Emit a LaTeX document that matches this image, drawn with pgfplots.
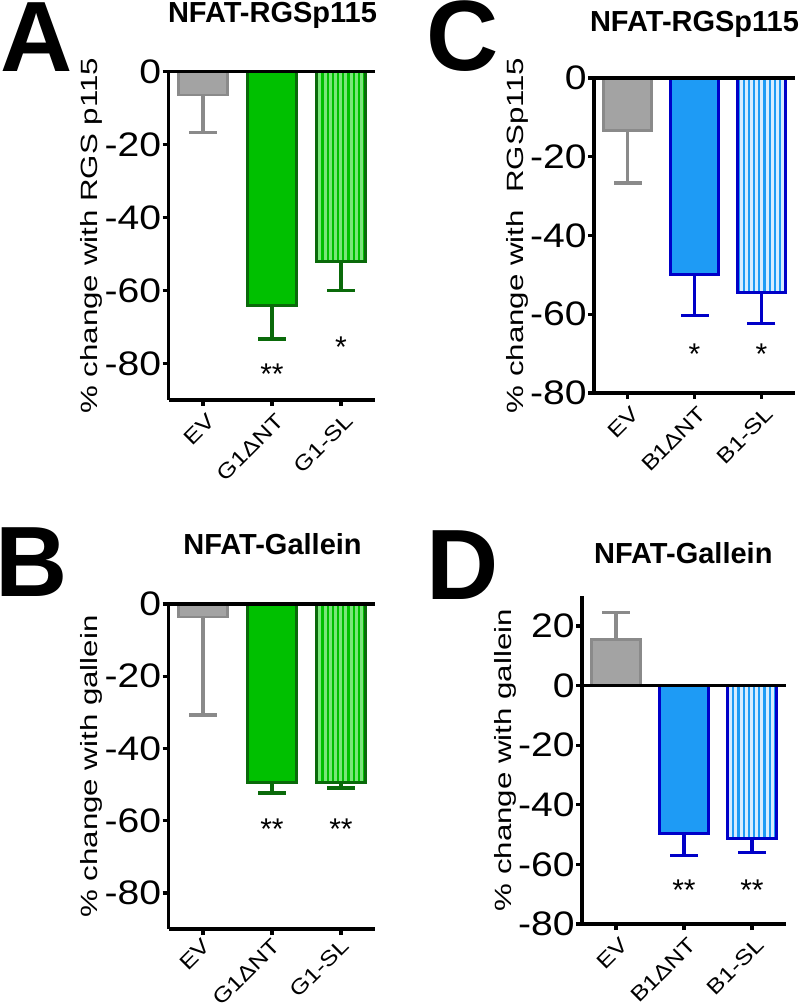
\documentclass[border=0pt]{standalone}
\usepackage{fontspec}
\setmainfont{Liberation Sans}
\newfontfamily\tickfont[FakeStretch=1.15]{Liberation Sans}
\newfontfamily\labfont[FakeStretch=1.33]{Liberation Sans}
\newfontfamily\xfont[FakeStretch=1.2]{Liberation Sans}
\usepackage{pgfplots}
\pgfplotsset{compat=1.18}
\usetikzlibrary{patterns.meta}

\definecolor{gfill}{HTML}{A3A3A3}
\definecolor{gedge}{HTML}{8A8A8A}
\definecolor{grfill}{HTML}{00C000}
\definecolor{gredge}{HTML}{0A6A0A}
\definecolor{grlight}{HTML}{7AE67A}
\definecolor{blfill}{HTML}{1E9BF5}
\definecolor{bledge}{HTML}{0000C8}
\definecolor{bllight}{HTML}{D6ECFF}

\newcommand{\ttl}[1]{{\fontsize{14.5}{16}\selectfont\bfseries #1}}

\pgfplotsset{
  panel/.style={
    scale only axis,
    anchor=south west,
    axis lines*=left,
    xmin=-0.5, xmax=2.5,
    xtick={0,1,2},
    enlargelimits=false,
    tick align=outside,
    major tick length=3pt,
    every tick/.append style={black, line width=1.6pt},
    axis line style={line width=1.8pt, black},
    yticklabel style={font=\fontsize{17}{20}\selectfont\tickfont, inner sep=0.5pt},
    xticklabel style={font=\fontsize{10.5}{12}\selectfont\xfont, rotate=45, anchor=north east, inner sep=1pt, yshift=-2pt},
    /pgf/number format/assume math mode=true,
    ylabel style={font=\fontsize{11.75}{14}\selectfont\labfont},
    ylabel shift=-3pt,
    clip=false,
  },
  barbase/.style={ybar, bar width=0.71, bar shift=0pt, line width=1.4pt},
  graybar/.style={barbase, fill=gfill, draw=gedge},
  greenbar/.style={barbase, fill=grfill, draw=gredge},
  greenhatch/.style={barbase, draw=gredge, preaction={fill=grlight}, pattern={Lines[angle=90,distance=2.6pt,line width=1.1pt]}, pattern color=grfill},
  bluebar/.style={barbase, fill=blfill, draw=bledge},
  bluehatch/.style={barbase, draw=bledge, preaction={fill=bllight}, pattern={Lines[angle=90,distance=2.6pt,line width=1.1pt]}, pattern color=blfill},
  errm/.style={draw=none, mark=none, forget plot, error bars/.cd, y dir=minus, y explicit, error bar style={line width=1.8pt, draw=#1, solid}, error mark options={rotate=90, mark size=7pt, line width=1.8pt, draw=#1}},
  errp/.style={draw=none, mark=none, forget plot, error bars/.cd, y dir=plus, y explicit, error bar style={line width=1.8pt, draw=#1, solid}, error mark options={rotate=90, mark size=7pt, line width=1.8pt, draw=#1}},
  zeroline/.style={black, line width=1.8pt, mark=none, forget plot},
}
\tikzset{
  star/.style={font=\fontsize{15}{18}\selectfont, anchor=base, yshift=-8.6pt, inner sep=0pt},
  letter/.style={font=\fontsize{50}{52}\selectfont\bfseries, anchor=base, inner sep=0pt},
  ptitle/.style={anchor=base, inner sep=0pt},
}

\begin{document}
\begin{tikzpicture}
\useasboundingbox (0,0) rectangle (400pt,504pt);

% ---------- Panel A ----------
\begin{axis}[panel, at={(84.25pt,304pt)}, width=103.5pt, height=164.15pt,
  ymin=-90, ymax=0, ytick={-80,-60,-40,-20,0},
  xticklabels={EV, G1ΔNT, G1-SL},
  ylabel={\% change with RGS p115}]
\addplot[graybar] coordinates {(0,-6.4)};
\addplot[greenbar] coordinates {(1,-64.1)};
\addplot[greenhatch] coordinates {(2,-52.0)};
\addplot[errm=gedge] coordinates {(0,-6.4) -= (0,10.3)};
\addplot[errm=gredge] coordinates {(1,-64.1) -= (0,9.1)};
\addplot[errm=gredge] coordinates {(2,-52.0) -= (0,8.0)};
\addplot[zeroline] coordinates {(-0.5,0) (2.5,0)};
\node[star] at (axis cs:1,-81.0) {**};
\node[star] at (axis cs:2,-73.7) {*};
\end{axis}

% ---------- Panel B ----------
\begin{axis}[panel, at={(84.25pt,39.45pt)}, width=103.5pt, height=162.55pt,
  ymin=-90, ymax=0, ytick={-80,-60,-40,-20,0},
  xticklabels={EV, G1ΔNT, G1-SL},
  xticklabel style={yshift=3pt},
  ylabel={\% change with gallein}]
\addplot[graybar] coordinates {(0,-3.6)};
\addplot[greenbar] coordinates {(1,-49.5)};
\addplot[greenhatch] coordinates {(2,-49.5)};
\addplot[errm=gedge] coordinates {(0,-3.6) -= (0,27.1)};
\addplot[errm=gredge] coordinates {(1,-49.5) -= (0,2.8)};
\addplot[errm=gredge] coordinates {(2,-49.5) -= (0,1.4)};
\addplot[zeroline] coordinates {(-0.5,0) (2.5,0)};
\node[star] at (axis cs:1,-60.3) {**};
\node[star] at (axis cs:2,-60.3) {**};
\end{axis}

% ---------- Panel C ----------
\begin{axis}[panel, at={(297pt,307.5pt)}, width=100.5pt, height=157.5pt,
  ymin=-80, ymax=0, ytick={-80,-60,-40,-20,0},
  xticklabels={EV, B1ΔNT, B1-SL},
  ylabel={\% change with\ \ RGSp115}]
\addplot[graybar] coordinates {(0,-13.4)};
\addplot[bluebar] coordinates {(1,-49.9)};
\addplot[bluehatch] coordinates {(2,-54.5)};
\addplot[errm=gedge] coordinates {(0,-13.4) -= (0,13.2)};
\addplot[errm=bledge] coordinates {(1,-49.9) -= (0,10.4)};
\addplot[errm=bledge] coordinates {(2,-54.5) -= (0,7.8)};
\addplot[zeroline] coordinates {(-0.5,0) (2.5,0)};
\node[star] at (axis cs:1,-68.3) {*};
\node[star] at (axis cs:2,-68.3) {*};
\end{axis}

% ---------- Panel D ----------
\begin{axis}[panel, at={(291pt,42pt)}, width=102pt, height=163.85pt,
  ymin=-80, ymax=30, ytick={-80,-60,-40,-20,0,20},
  xticklabels={EV, B1ΔNT, B1-SL},
  ylabel={\% change with gallein}]
\addplot[graybar] coordinates {(0,15.5)};
\addplot[bluebar] coordinates {(1,-49.5)};
\addplot[bluehatch] coordinates {(2,-51.4)};
\addplot[errp=gedge] coordinates {(0,15.5) += (0,9.0)};
\addplot[errm=bledge] coordinates {(1,-49.5) -= (0,7.5)};
\addplot[errm=bledge] coordinates {(2,-51.4) -= (0,4.6)};
\addplot[zeroline] coordinates {(-0.5,0) (2.5,0)};
\node[star] at (axis cs:1,-66.2) {**};
\node[star] at (axis cs:2,-66.2) {**};
\end{axis}

% ---------- Panel letters and titles ----------
\node[letter] at (18.5pt,468pt) {A};
\node[letter] at (16pt,205.5pt) {B};
\node[letter] at (231.25pt,468.5pt) {C};
\node[letter] at (231.25pt,204pt) {D};
\node[ptitle] at (136.25pt,492.5pt) {\ttl{NFAT-RGSp115}};
\node[ptitle] at (347.25pt,488pt) {\ttl{NFAT-RGSp115}};
\node[ptitle] at (136.25pt,226.5pt) {\ttl{NFAT-Gallein}};
\node[ptitle] at (341.65pt,222.3pt) {\ttl{NFAT-Gallein}};
\end{tikzpicture}
\end{document}
